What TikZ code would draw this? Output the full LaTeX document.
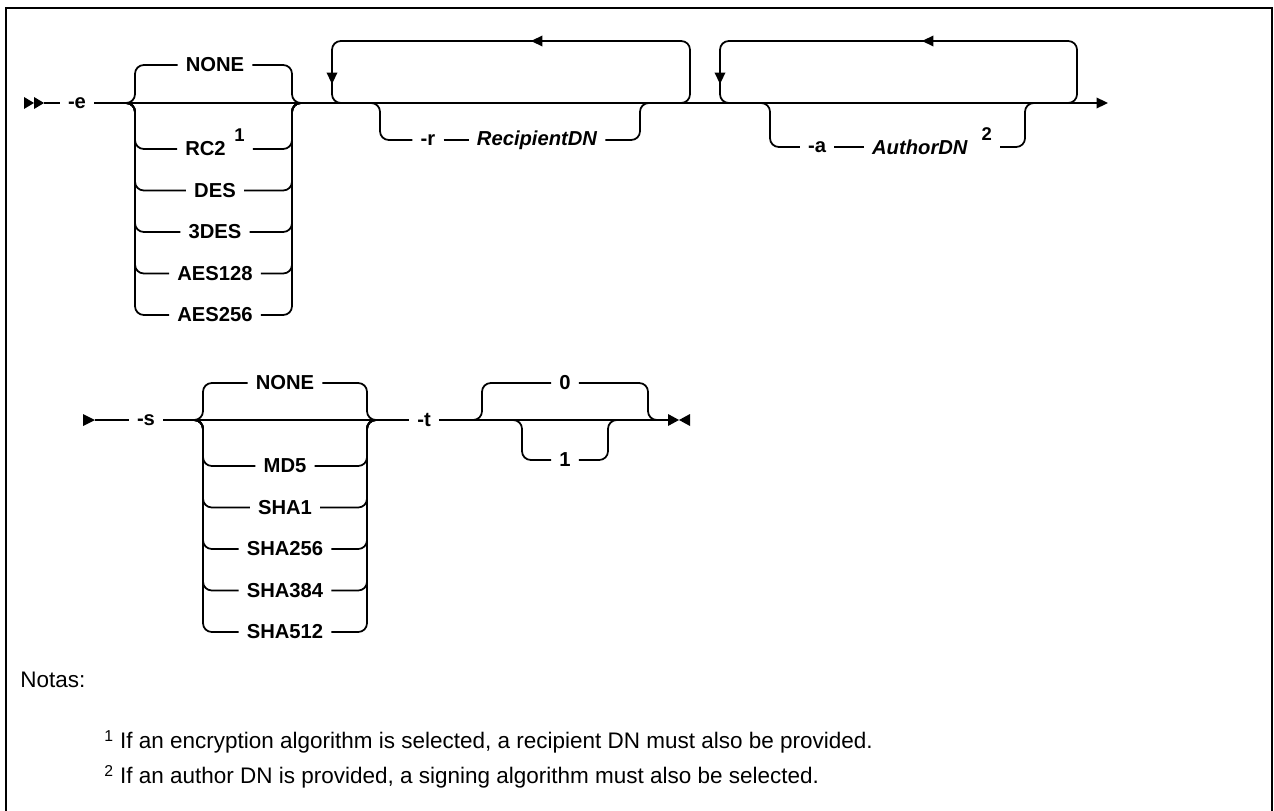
\documentclass[tikz,border=0pt]{standalone}
\usepackage{fontspec}
\setmainfont{Liberation Sans}
\usetikzlibrary{arrows.meta,positioning,calc}
\newcommand{\fnref}[1]{\smash{\raisebox{8pt}{\upshape\fontsize{10.5}{12}\selectfont #1}}}

\begin{document}
\begin{tikzpicture}[
    x=0.02cm, y=-0.02cm,
    rail/.style={line width=1pt},
    railbend/.style={rail, rounded corners=5pt},
    kw/.style={font=\fontsize{11.5}{13}\selectfont\bfseries, inner sep=4.5pt},
    var/.style={kw, font=\fontsize{11.5}{13}\selectfont\bfseries\itshape},
    railtip/.style={rail, -{Triangle[length=6.5pt, width=6pt]}},
    endmark/.style={fill=black},
    notetext/.style={font=\fontsize{12.8}{15}\selectfont, anchor=west, inner sep=0pt},
    framebox/.style={line width=1.4pt},
  ]
    \useasboundingbox (0,0) rectangle (1274,811);
    \draw[framebox] (6,8) rectangle (1272,830);

    % row 1: main line
    \fill[endmark] (24,97) -- (34,103) -- (24,109) -- cycle
                  (34,97) -- (44,103) -- (34,109) -- cycle;
    \coordinate (r1start) at (44,103);
    \node[kw] (opte) at (77,103) {-e};
    \coordinate (r1end) at (1108,103);
    \draw[rail] (r1start) -- (opte);
    \draw[railtip] (opte) -- (r1end);

    % -e choices
    \coordinate (eIn) at (125,103);  \coordinate (eL) at (135,103);
    \coordinate (eR) at (292,103);   \coordinate (eOut) at (302,103);
    \node[kw] (enone) at (215,65) {NONE};
    \foreach \nm/\txt/\yy in {erc/RC2\hspace{5pt}\fnref{1}/149, edes/DES/190.5,
        etdes/3DES/232, eaesa/AES128/273.5, eaesb/AES256/315}
      \node[kw] (\nm) at (215,\yy) {\txt};
    \foreach \nm in {enone,erc,edes,etdes,eaesa,eaesb}{
      \draw[railbend] (eIn) -| (\nm.west -| eL) -- (\nm.west);
      \draw[railbend] (\nm.east) -| (eR) -- (eOut);
    }

    % repeat loop with -r
    \coordinate (rLoopIn) at (680,103);  \coordinate (rLoopOut) at (342,103);
    \coordinate (rLoopR) at (690,41);    \coordinate (rLoopL) at (332,41);
    \draw[railbend] (rLoopIn) -| (rLoopR) -- (rLoopL) |- (rLoopOut);
    \draw[railtip] (560,41) -- (531,41);
    \draw[railtip] (332,62) -- (332,84);
    \coordinate (rIn) at (370,103);  \coordinate (rL) at (380,103);
    \coordinate (rR) at (640,103);   \coordinate (rOut) at (650,103);
    \node[kw] (optr) at (428,140) {-r};
    \node[var] (recip) at (537,140) {RecipientDN};
    \draw[railbend] (rIn) -| (optr.west -| rL) -- (optr.west);
    \draw[rail] (optr) -- (recip);
    \draw[railbend] (recip.east) -| (rR) -- (rOut);

    % repeat loop with -a
    \coordinate (aLoopIn) at (1067,103); \coordinate (aLoopOut) at (730,103);
    \coordinate (aLoopR) at (1077,41);   \coordinate (aLoopL) at (720,41);
    \draw[railbend] (aLoopIn) -| (aLoopR) -- (aLoopL) |- (aLoopOut);
    \draw[railtip] (950,41) -- (922,41);
    \draw[railtip] (720,62) -- (720,84);
    \coordinate (aIn) at (760,103);  \coordinate (aL) at (770,103);
    \coordinate (aR) at (1025,103);  \coordinate (aOut) at (1035,103);
    \node[kw] (opta) at (817,147) {-a};
    \node[var] (author) at (932,147) {AuthorDN\hspace{8pt}\fnref{2}};
    \draw[railbend] (aIn) -| (opta.west -| aL) -- (opta.west);
    \draw[rail] (opta) -- (author);
    \draw[railbend] (author.east) -| (aR) -- (aOut);

    % row 2: main line
    \fill[endmark] (83,414) -- (95,420) -- (83,426) -- cycle;
    \coordinate (r2start) at (95,420);
    \node[kw] (opts) at (146,420) {-s};
    \node[kw] (optt) at (424,420) {-t};
    \coordinate (r2end) at (668,420);
    \draw[rail] (r2start) -- (opts);
    \draw[rail] (opts) -- (optt);
    \draw[rail] (optt) -- (r2end);
    \fill[endmark] (668,414) -- (679,420) -- (668,426) -- cycle
                  (690,414) -- (679,420) -- (690,426) -- cycle;

    % -s choices
    \coordinate (sIn) at (193,420);  \coordinate (sL) at (203,420);
    \coordinate (sR) at (367,420);   \coordinate (sOut) at (377,420);
    \foreach \nm/\txt/\yy in {snone/NONE/383, smd/MD5/466, ssha/SHA1/507.5,
        sshb/SHA256/549, sshc/SHA384/590.5, sshd/SHA512/632}{
      \node[kw] (\nm) at (285,\yy) {\txt};
      \draw[railbend] (sIn) -| (\nm.west -| sL) -- (\nm.west);
      \draw[railbend] (\nm.east) -| (sR) -- (sOut);
    }

    % -t choices
    \coordinate (tIn) at (472,420);  \coordinate (tL) at (482,420);
    \coordinate (tR) at (648,420);   \coordinate (tOut) at (658,420);
    \node[kw] (tzero) at (565,383) {0};
    \draw[railbend] (tIn) -| (tzero.west -| tL) -- (tzero.west);
    \draw[railbend] (tzero.east) -| (tR) -- (tOut);
    \coordinate (uIn) at (512,420);  \coordinate (uL) at (522,420);
    \coordinate (uR) at (608,420);   \coordinate (uOut) at (618,420);
    \node[kw] (tone) at (565,460) {1};
    \draw[railbend] (uIn) -| (tone.west -| uL) -- (tone.west);
    \draw[railbend] (tone.east) -| (uR) -- (uOut);

    % notes
    \node[notetext] (notas) at (20,680) {Notas:};
    \node[notetext] (noteone) at (104,742)
      {\textsuperscript{1} If an encryption algorithm is selected, a recipient DN must also be provided.};
    \node[notetext] (notetwo) at (104,777)
      {\textsuperscript{2} If an author DN is provided, a signing algorithm must also be selected.};
  \end{tikzpicture}
\end{document}
